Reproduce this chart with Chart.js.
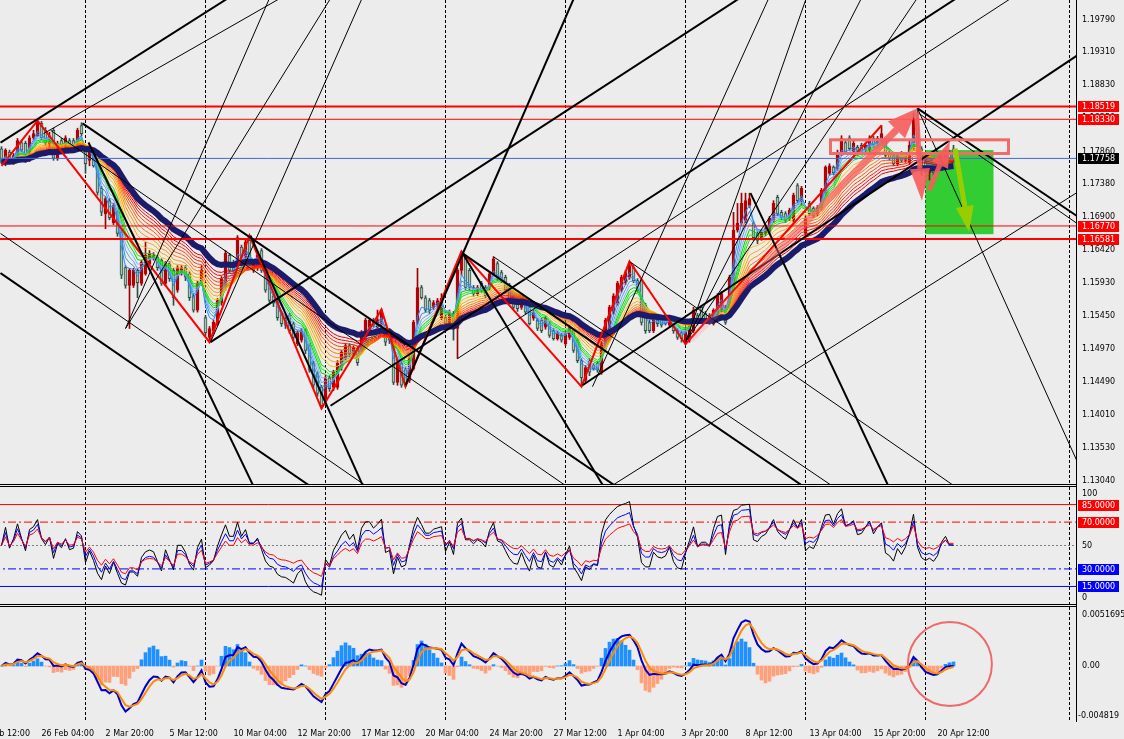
<!DOCTYPE html>
<html lang="en">
<head>
<meta charset="UTF-8">
<title>EURUSD,H4</title>
<script src="https://cdn.jsdelivr.net/npm/chart.js"></script>
<style>
  html, body { margin: 0; padding: 0; background: #ececec; }
  body { position: relative; width: 1124px; height: 739px; overflow: hidden; }
  .pane { position: absolute; left: 0; width: 1124px; }
  .hr { position: absolute; left: 0; width: 1077px; height: 1px; background: #000; }
  .vr { position: absolute; left: 1076px; top: 0; width: 1px; height: 722px; background: #000; }
</style>
</head>
<body>
<div class="pane" style="top:0;height:484px"><canvas id="priceChart"></canvas></div>
<div class="pane" style="top:487px;height:117px"><canvas id="rsiChart"></canvas></div>
<div class="pane" style="top:607px;height:132px"><canvas id="macdChart"></canvas></div>
<div class="hr" style="top:484px"></div>
<div class="hr" style="top:486px"></div>
<div class="hr" style="top:604px"></div>
<div class="hr" style="top:606px"></div>
<div class="vr"></div>
<script>
// H4 bars, first bar = 24 Feb 12:00, last bar = 21 Apr 04:00
const opens = [
 1.1790,1.1768,1.1785,1.1770,1.1776,1.1799,1.1798,1.1773,1.1806,1.1809,
 1.1827,1.1817,1.1795,1.1817,1.1776,1.1802,1.1792,1.1802,1.1802,1.1795,
 1.1824,1.1792,1.1773,1.1788,1.1768,1.1732,1.1695,1.1714,1.1682,1.1697,
 1.1668,1.1616,1.1590,1.1590,1.1612,1.1593,1.1607,1.1622,1.1629,1.1631,
 1.1627,1.1593,1.1622,1.1612,1.1583,1.1607,1.1616,1.1607,1.1575,1.1554,
 1.1593,1.1543,1.1514,1.1524,1.1534,1.1564,1.1587,1.1634,1.1624,1.1624,
 1.1646,1.1631,1.1656,1.1612,1.1615,1.1641,1.1612,1.1594,1.1575,1.1568,
 1.1549,1.1542,1.1546,1.1534,1.1505,1.1510,1.1524,1.1502,1.1476,1.1461,
 1.1441,1.1422,1.1455,1.1441,1.1441,1.1470,1.1484,1.1502,1.1487,1.1498,
 1.1495,1.1510,1.1524,1.1539,1.1527,1.1532,1.1532,1.1524,1.1505,1.1448,
 1.1476,1.1468,1.1451,1.1468,1.1536,1.1587,1.1572,1.1568,1.1558,1.1561,
 1.1543,1.1543,1.1534,1.1549,1.1527,1.1612,1.1631,1.1612,1.1587,1.1578,
 1.1593,1.1587,1.1586,1.1607,1.1622,1.1609,1.1602,1.1590,1.1572,1.1568,
 1.1558,1.1564,1.1558,1.1542,1.1539,1.1539,1.1529,1.1534,1.1524,1.1512,
 1.1517,1.1505,1.1514,1.1524,1.1510,1.1480,1.1451,1.1480,1.1473,1.1476,
 1.1463,1.1499,1.1524,1.1551,1.1564,1.1583,1.1594,1.1602,1.1616,1.1597,
 1.1597,1.1561,1.1536,1.1524,1.1539,1.1542,1.1539,1.1532,1.1532,1.1524,
 1.1521,1.1507,1.1510,1.1524,1.1546,1.1558,1.1549,1.1546,1.1534,1.1542,
 1.1554,1.1558,1.1558,1.1593,1.1671,1.1681,1.1685,1.1707,1.1681,1.1666,
 1.1660,1.1666,1.1668,1.1685,1.1719,1.1697,1.1695,1.1688,1.1685,1.1736,
 1.1714,1.1666,1.1710,1.1703,1.1695,1.1704,1.1725,1.1754,1.1763,1.1761,
 1.1783,1.1799,1.1806,1.1785,1.1792,1.1795,1.1788,1.1788,1.1805,1.1798,
 1.1802,1.1802,1.1785,1.1780,1.1768,1.1783,1.1773,1.1770,1.1790,1.1834,
 1.1790,1.1770,1.1755,1.1765,1.1770,1.1768,1.1776,1.1785,1.1790
];
const highs = [
 1.1793,1.1790,1.1788,1.1783,1.1805,1.1802,1.1801,1.1809,1.1817,1.1831,
 1.1830,1.1821,1.1814,1.1820,1.1801,1.1805,1.1809,1.1805,1.1805,1.1820,
 1.1828,1.1795,1.1788,1.1790,1.1773,1.1735,1.1720,1.1717,1.1710,1.1700,
 1.1671,1.1619,1.1615,1.1615,1.1615,1.1627,1.1653,1.1641,1.1638,1.1634,
 1.1629,1.1625,1.1625,1.1615,1.1619,1.1619,1.1619,1.1610,1.1578,1.1596,
 1.1619,1.1546,1.1530,1.1539,1.1571,1.1603,1.1641,1.1637,1.1627,1.1663,
 1.1649,1.1656,1.1663,1.1625,1.1638,1.1644,1.1615,1.1597,1.1578,1.1571,
 1.1552,1.1545,1.1549,1.1537,1.1524,1.1527,1.1527,1.1505,1.1479,1.1464,
 1.1444,1.1458,1.1458,1.1466,1.1480,1.1495,1.1505,1.1505,1.1502,1.1501,
 1.1524,1.1542,1.1542,1.1542,1.1554,1.1555,1.1534,1.1527,1.1508,1.1479,
 1.1479,1.1471,1.1487,1.1539,1.1615,1.1590,1.1575,1.1571,1.1568,1.1571,
 1.1578,1.1546,1.1554,1.1552,1.1615,1.1640,1.1634,1.1615,1.1590,1.1590,
 1.1596,1.1590,1.1610,1.1632,1.1625,1.1612,1.1605,1.1593,1.1575,1.1571,
 1.1571,1.1567,1.1561,1.1554,1.1542,1.1542,1.1545,1.1537,1.1527,1.1523,
 1.1520,1.1523,1.1532,1.1527,1.1512,1.1483,1.1473,1.1483,1.1476,1.1479,
 1.1508,1.1542,1.1561,1.1578,1.1596,1.1605,1.1612,1.1625,1.1619,1.1600,
 1.1600,1.1564,1.1539,1.1545,1.1542,1.1545,1.1542,1.1545,1.1534,1.1527,
 1.1524,1.1527,1.1539,1.1558,1.1549,1.1561,1.1552,1.1549,1.1556,1.1578,
 1.1581,1.1561,1.1605,1.1697,1.1710,1.1725,1.1725,1.1725,1.1684,1.1669,
 1.1671,1.1676,1.1691,1.1714,1.1722,1.1700,1.1698,1.1703,1.1725,1.1739,
 1.1735,1.1691,1.1713,1.1705,1.1707,1.1732,1.1765,1.1768,1.1765,1.1788,
 1.1809,1.1802,1.1809,1.1801,1.1795,1.1798,1.1798,1.1809,1.1808,1.1808,
 1.1824,1.1805,1.1788,1.1783,1.1783,1.1786,1.1783,1.1802,1.1842,1.1849,
 1.1793,1.1773,1.1764,1.1768,1.1773,1.1780,1.1788,1.1788,1.1795
];
const lows = [
 1.1768,1.1765,1.1768,1.1767,1.1773,1.1785,1.1770,1.1771,1.1803,1.1808,
 1.1803,1.1795,1.1792,1.1773,1.1773,1.1789,1.1789,1.1788,1.1789,1.1792,
 1.1809,1.1754,1.1765,1.1763,1.1722,1.1692,1.1673,1.1686,1.1679,1.1662,
 1.1600,1.1586,1.1527,1.1587,1.1572,1.1590,1.1605,1.1619,1.1627,1.1612,
 1.1590,1.1590,1.1596,1.1561,1.1580,1.1605,1.1597,1.1568,1.1551,1.1551,
 1.1590,1.1517,1.1507,1.1520,1.1532,1.1561,1.1583,1.1609,1.1609,1.1621,
 1.1628,1.1628,1.1619,1.1609,1.1612,1.1609,1.1580,1.1565,1.1559,1.1539,
 1.1530,1.1527,1.1520,1.1510,1.1502,1.1507,1.1490,1.1463,1.1439,1.1428,
 1.1410,1.1417,1.1435,1.1436,1.1438,1.1466,1.1481,1.1486,1.1484,1.1473,
 1.1492,1.1507,1.1521,1.1529,1.1524,1.1529,1.1502,1.1505,1.1445,1.1444,
 1.1441,1.1442,1.1448,1.1466,1.1533,1.1570,1.1551,1.1549,1.1555,1.1558,
 1.1540,1.1532,1.1532,1.1510,1.1483,1.1605,1.1584,1.1583,1.1574,1.1575,
 1.1580,1.1572,1.1583,1.1605,1.1597,1.1594,1.1580,1.1565,1.1555,1.1552,
 1.1555,1.1548,1.1532,1.1539,1.1524,1.1521,1.1526,1.1514,1.1510,1.1510,
 1.1507,1.1502,1.1511,1.1492,1.1477,1.1442,1.1447,1.1458,1.1466,1.1463,
 1.1460,1.1496,1.1521,1.1548,1.1561,1.1580,1.1591,1.1599,1.1594,1.1580,
 1.1532,1.1520,1.1521,1.1521,1.1530,1.1529,1.1532,1.1529,1.1520,1.1511,
 1.1507,1.1504,1.1507,1.1521,1.1532,1.1536,1.1536,1.1533,1.1532,1.1539,
 1.1551,1.1533,1.1555,1.1590,1.1668,1.1678,1.1682,1.1704,1.1656,1.1651,
 1.1656,1.1663,1.1665,1.1682,1.1692,1.1686,1.1682,1.1685,1.1682,1.1711,
 1.1707,1.1662,1.1692,1.1689,1.1692,1.1700,1.1722,1.1751,1.1752,1.1758,
 1.1780,1.1782,1.1788,1.1782,1.1780,1.1782,1.1785,1.1785,1.1792,1.1795,
 1.1799,1.1777,1.1773,1.1765,1.1765,1.1770,1.1770,1.1767,1.1788,1.1785,
 1.1751,1.1755,1.1744,1.1751,1.1758,1.1765,1.1773,1.1773,1.1770
];
const closes = [
 1.1770,1.1788,1.1770,1.1780,1.1802,1.1788,1.1773,1.1806,1.1812,1.1828,
 1.1806,1.1798,1.1809,1.1776,1.1798,1.1792,1.1806,1.1790,1.1792,1.1817,
 1.1812,1.1768,1.1785,1.1765,1.1726,1.1697,1.1717,1.1689,1.1707,1.1666,
 1.1605,1.1590,1.1612,1.1612,1.1594,1.1624,1.1634,1.1637,1.1634,1.1616,
 1.1593,1.1622,1.1600,1.1572,1.1616,1.1616,1.1602,1.1572,1.1554,1.1593,
 1.1612,1.1521,1.1527,1.1536,1.1568,1.1600,1.1637,1.1612,1.1612,1.1660,
 1.1631,1.1653,1.1622,1.1622,1.1634,1.1612,1.1583,1.1568,1.1564,1.1543,
 1.1534,1.1532,1.1524,1.1514,1.1521,1.1524,1.1495,1.1466,1.1444,1.1432,
 1.1414,1.1455,1.1439,1.1463,1.1476,1.1492,1.1502,1.1490,1.1499,1.1477,
 1.1520,1.1539,1.1539,1.1532,1.1540,1.1551,1.1507,1.1510,1.1448,1.1476,
 1.1444,1.1447,1.1484,1.1536,1.1587,1.1572,1.1554,1.1554,1.1565,1.1568,
 1.1571,1.1534,1.1551,1.1527,1.1612,1.1637,1.1587,1.1587,1.1578,1.1587,
 1.1583,1.1575,1.1607,1.1629,1.1600,1.1597,1.1583,1.1568,1.1558,1.1556,
 1.1568,1.1551,1.1534,1.1551,1.1527,1.1524,1.1542,1.1517,1.1512,1.1520,
 1.1510,1.1520,1.1529,1.1495,1.1480,1.1455,1.1470,1.1463,1.1468,1.1466,
 1.1505,1.1539,1.1558,1.1575,1.1593,1.1602,1.1609,1.1619,1.1597,1.1583,
 1.1536,1.1524,1.1524,1.1542,1.1534,1.1532,1.1534,1.1542,1.1524,1.1514,
 1.1512,1.1524,1.1536,1.1554,1.1534,1.1539,1.1539,1.1536,1.1554,1.1575,
 1.1578,1.1536,1.1602,1.1671,1.1681,1.1710,1.1714,1.1717,1.1660,1.1656,
 1.1668,1.1673,1.1688,1.1710,1.1695,1.1689,1.1685,1.1700,1.1722,1.1714,
 1.1732,1.1688,1.1695,1.1692,1.1704,1.1729,1.1763,1.1765,1.1755,1.1785,
 1.1805,1.1785,1.1790,1.1798,1.1783,1.1785,1.1795,1.1806,1.1795,1.1805,
 1.1812,1.1780,1.1776,1.1768,1.1780,1.1773,1.1780,1.1795,1.1834,1.1788,
 1.1765,1.1758,1.1761,1.1755,1.1761,1.1777,1.1785,1.1776,1.17758
];

// time axis
const timeLabels = ['23 Feb 12:00','26 Feb 04:00','2 Mar 20:00','5 Mar 12:00','10 Mar 04:00','12 Mar 20:00',
  '17 Mar 12:00','20 Mar 04:00','24 Mar 20:00','27 Mar 12:00','1 Apr 04:00','3 Apr 20:00','8 Apr 12:00',
  '13 Apr 04:00','15 Apr 20:00','20 Apr 12:00'];
const timeLabelBars = [-6,10,26,42,58,74,90,106,122,138,154,170,186,202,218,234];
const separatorBars = [21,51,81,111,141,171,201,231,267];

// price axis and levels
const priceTicks = [1.19790,1.19310,1.18830,1.18350,1.17860,1.17380,1.16900,1.16420,1.15930,1.15450,1.14970,1.14490,1.14010,1.13530,1.13040];
const redLevels = [1.18519,1.18330,1.16770,1.16581];
const bidPrice = 1.17758;

// zigzag swing points
const zigzagBars = [0,9,52,62,80,95,101,115,145,157,171,220];
const zigzagPrices = [1.1765,1.1831,1.1507,1.1663,1.1410,1.1555,1.1442,1.1640,1.1442,1.1625,1.1504,1.1824];

// trend lines [bar1, price1, bar2, price2]
const thickLines = [
 [-0.25,1.1799,62.25,1.2031],[20.25,1.1827,166.25,1.1246],[-0.25,1.1608,82.25,1.1276],
 [21.75,1.1799,64.75,1.1275],[62.25,1.1663,93.5,1.1256],[52.25,1.1507,189.75,1.2030],
 [82.25,1.1414,244.75,1.2033],[101,1.1444,146,1.2049],[115.25,1.1637,212.25,1.1249],
 [115.25,1.1637,156,1.1243],[145.25,1.1444,294.75,1.2027],[187.25,1.1725,224.75,1.1259],
 [229,1.1849,287.25,1.1619]
];
const thinLines = [
 [-0.25,1.1666,99.75,1.1262],[10.5,1.1812,74.75,1.2027],[12.25,1.1817,149.75,1.1262],
 [123,1.1632,219.75,1.1249],[157.25,1.1624,249.75,1.1250],[114,1.1483,259.75,1.2038],
 [31,1.1527,69.75,1.2047],[31,1.1527,86,1.2045],[52.25,1.1507,92.25,1.2038],
 [147.75,1.1442,194.75,1.2048],[171,1.1507,217.25,1.2036],[171,1.1507,232.25,1.2039],
 [171,1.1507,202.75,1.2036],[229,1.1849,274.6,1.1259],[229,1.1843,287.25,1.1606],
 [153.1,1.1299,274.6,1.1747]
];

// drawn objects [bar1, price1, bar2, price2]
const greenBox = [231,1.1788,248,1.1665];
const pinkBox = [207.25,1.1803,251.75,1.1783];
const pinkArrows = [[172.25,1.1510,229,1.1849],[228.75,1.1843,230.1,1.1714],[231.9,1.1729,237.1,1.1801]];
const limeArrow = [238.4,1.1790,241.9,1.1668];
const macdCircle = [237.1,0.000175];

// indicator settings
const ribbonPeriods = [3,4,5,6,7,8,9,11,13,15,17,19,21,23,25,27];
const ribbonColors = ['#1e90ff','#3a8ee8','#5aa0f0','#7db4f5','#00d000','#00ff00','#40c040','#ffc000',
  '#ffa500','#ff9000','#ff7a00','#ff5a00','#ff4000','#ff2000','#ff0000','#e00000'];
const slowPeriod = 32;
const rsiPeriods = [6,9,14];
const rsiLevels = [85,70,30,15];
const macdFast = 5, macdSlow = 10, macdSignalLen = 3, macdBaseLen = 9;

const X_MIN = -0.375, X_MAX = 268.625;

function ema(src, n) {
  const k = 2 / (n + 1), out = [src[0]];
  for (let i = 1; i < src.length; i++) out.push(src[i] * k + out[i - 1] * (1 - k));
  return out;
}
function sma(src, n) {
  return src.map((_, i) => {
    const a = src.slice(Math.max(0, i - n + 1), i + 1);
    return a.reduce((s, v) => s + v, 0) / a.length;
  });
}
function rsi(src, n) {
  let g = 0.0004, l = 0.0004;
  const out = [50];
  for (let i = 1; i < src.length; i++) {
    const d = src[i] - src[i - 1];
    g = (g * (n - 1) + Math.max(d, 0)) / n;
    l = (l * (n - 1) + Math.max(-d, 0)) / n;
    out.push(100 - 100 / (1 + g / l));
  }
  return out;
}

const pts = arr => arr.map((v, i) => ({ x: i, y: v }));
const seg = l => [{ x: l[0], y: l[1] }, { x: l[2], y: l[3] }];
const hline = v => [{ x: X_MIN - 2, y: v }, { x: X_MAX + 2, y: v }];
const lineDs = (data, color, width, order, extra) => Object.assign({
  type: 'line', data, borderColor: color, borderWidth: width, pointRadius: 0,
  fill: false, tension: 0, order
}, extra || {});

Chart.defaults.font.family = '"DejaVu Sans", sans-serif';
Chart.defaults.font.size = 8;
Chart.defaults.color = '#000';

const bull = closes.map((c, i) => c >= opens[i]);

function xAxis(show) {
  return {
    type: 'linear', min: X_MIN, max: X_MAX, offset: false, display: show,
    grid: { display: false }, border: { display: false },
    afterFit(s) { s.paddingLeft = 0; s.paddingRight = 0; if (show) s.height = 18; },
    afterBuildTicks(s) { if (show) s.ticks = timeLabelBars.map(v => ({ value: v })); },
    ticks: { autoSkip: false, maxRotation: 0, align: 'start', padding: 0,
      callback: (v, i) => timeLabels[i] }
  };
}
function yAxis(min, max, tickVals, fmt) {
  return {
    position: 'right', min, max,
    grid: { display: false, drawTicks: false },
    border: { display: true, color: '#000' },
    afterFit(s) { s.width = 48; s.paddingTop = 0; s.paddingBottom = 0; },
    afterBuildTicks(s) { s.ticks = tickVals.map(v => ({ value: v })); },
    ticks: { padding: 6, autoSkip: false, callback: fmt }
  };
}

const separators = {
  id: 'separators',
  beforeDatasetsDraw(chart) {
    const { ctx, chartArea: a, scales: { x } } = chart;
    ctx.save();
    ctx.strokeStyle = '#000'; ctx.lineWidth = 1; ctx.setLineDash([3, 2]);
    separatorBars.forEach(b => {
      const px = Math.floor(x.getPixelForValue(b)) + 0.5;
      ctx.beginPath(); ctx.moveTo(px, a.top); ctx.lineTo(px, a.bottom); ctx.stroke();
    });
    ctx.restore();
  }
};

function tag(ctx, y, text, bg) {
  const yy = Math.round(y);
  ctx.fillStyle = bg; ctx.fillRect(1078, yy - 5, 41, 11);
  ctx.fillStyle = '#fff'; ctx.textAlign = 'left'; ctx.textBaseline = 'middle';
  ctx.font = '8px "DejaVu Sans"';
  ctx.fillText(text, 1082, yy + 0.5);
}
function plainText(ctx, x, y, text) {
  ctx.fillStyle = '#000'; ctx.textAlign = 'left'; ctx.textBaseline = 'middle';
  ctx.font = '8px "DejaVu Sans"';
  ctx.fillText(text, x, y);
}
function arrow(ctx, x1, y1, x2, y2, shaft, headLen, headW, color, fade) {
  const ang = Math.atan2(y2 - y1, x2 - x1);
  const bx = x2 - Math.cos(ang) * headLen, by = y2 - Math.sin(ang) * headLen;
  let stroke = color;
  if (fade) {
    stroke = ctx.createLinearGradient(x1, y1, bx, by);
    stroke.addColorStop(0, 'rgba(248,96,96,0.12)');
    stroke.addColorStop(0.5, 'rgba(248,96,96,0.55)');
    stroke.addColorStop(1, color);
  }
  ctx.strokeStyle = stroke; ctx.lineWidth = shaft; ctx.lineCap = 'butt';
  ctx.beginPath(); ctx.moveTo(x1, y1); ctx.lineTo(bx, by); ctx.stroke();
  const nx = -Math.sin(ang) * headW / 2, ny = Math.cos(ang) * headW / 2;
  ctx.fillStyle = color;
  ctx.beginPath(); ctx.moveTo(x2, y2); ctx.lineTo(bx + nx, by + ny); ctx.lineTo(bx - nx, by - ny);
  ctx.closePath(); ctx.fill();
}

const priceObjects = {
  id: 'priceObjects',
  beforeDatasetsDraw(chart) {
    const { ctx, chartArea: a, scales: { x, y } } = chart;
    ctx.save();
    ctx.beginPath(); ctx.rect(a.left, a.top, a.width, a.height); ctx.clip();
    const gx1 = x.getPixelForValue(greenBox[0]), gy1 = y.getPixelForValue(greenBox[1]);
    const gx2 = x.getPixelForValue(greenBox[2]), gy2 = y.getPixelForValue(greenBox[3]);
    ctx.fillStyle = '#32cd32';
    ctx.fillRect(gx1, gy1, gx2 - gx1, gy2 - gy1);
    ctx.restore();
  },
  afterDatasetsDraw(chart) {
    const { ctx, chartArea: a, scales: { x, y } } = chart;
    ctx.save();
    ctx.beginPath(); ctx.rect(a.left, a.top, a.width, a.height); ctx.clip();
    const px = x.getPixelForValue.bind(x), py = y.getPixelForValue.bind(y);
    ctx.strokeStyle = '#f46a6a'; ctx.lineWidth = 3;
    ctx.strokeRect(px(pinkBox[0]), py(pinkBox[1]), px(pinkBox[2]) - px(pinkBox[0]), py(pinkBox[3]) - py(pinkBox[1]));
    const c = 'rgba(248,92,92,0.9)';
    const A = pinkArrows;
    arrow(ctx, px(A[0][0]), py(A[0][1]), px(A[0][2]), py(A[0][3]), 7, 30, 24, c, true);
    arrow(ctx, px(A[1][0]), py(A[1][1]), px(A[1][2]), py(A[1][3]), 5, 32, 20, c, false);
    arrow(ctx, px(A[2][0]), py(A[2][1]), px(A[2][2]), py(A[2][3]), 5, 26, 18, c, false);
    arrow(ctx, px(limeArrow[0]), py(limeArrow[1]), px(limeArrow[2]), py(limeArrow[3]), 5, 26, 18, '#9acd00', false);
    ctx.restore();
  },
  afterDraw(chart) {
    const { ctx, scales: { y } } = chart;
    ctx.save();
    redLevels.forEach(v => tag(ctx, y.getPixelForValue(v), v.toFixed(5), '#ff0000'));
    tag(ctx, y.getPixelForValue(bidPrice), bidPrice.toFixed(5), '#000000');
    ctx.restore();
  }
};

// price pane
const priceSets = [
  { type: 'bar', data: highs.map((h, i) => ({ x: i, y: [lows[i], h] })), barThickness: 1, grouped: false,
    backgroundColor: bull.map(b => b ? '#a00000' : '#2f4f4f'), order: 60 },
  { type: 'bar', data: opens.map((o, i) => ({ x: i, y: [o, closes[i]] })), barThickness: 3, grouped: false,
    backgroundColor: bull.map(b => b ? '#b40000' : '#a3c9aa'),
    borderColor: bull.map(b => b ? '#b40000' : '#2f4f4f'), borderWidth: 1, borderSkipped: false, order: 59 }
];
ribbonPeriods.forEach((p, k) => priceSets.push(lineDs(pts(ema(closes, p)), ribbonColors[k], 1, 50 - k * 0.1)));
priceSets.push(lineDs(pts(ema(closes, slowPeriod)), '#1b1b6b', 6, 40));
priceSets.push(lineDs(zigzagBars.map((b, i) => ({ x: b, y: zigzagPrices[i] })), '#ff0000', 2, 30));
redLevels.forEach((v, k) => priceSets.push(lineDs(hline(v), '#ff0000', (k === 0 || k === 3) ? 2 : 1, 25)));
priceSets.push(lineDs(hline(bidPrice), '#4169e1', 1, 25));
thinLines.forEach(l => priceSets.push(lineDs(seg(l), '#000', 1, 20)));
thickLines.forEach(l => priceSets.push(lineDs(seg(l), '#000', 2, 19)));

new Chart(document.getElementById('priceChart'), {
  type: 'line',
  data: { datasets: priceSets },
  options: {
    responsive: true, maintainAspectRatio: false, animation: false, events: [],
    layout: { padding: 0 },
    plugins: { legend: { display: false }, tooltip: { enabled: false } },
    scales: {
      x: xAxis(false),
      y: yAxis(1.12996, 1.20075, priceTicks, v => v.toFixed(5))
    }
  },
  plugins: [separators, priceObjects]
});

// RSI pane
const rsiColors = ['#000000', '#0000ff', '#ff0000'];
const rsiSets = [
  lineDs(hline(85), '#ff0000', 1, 50),
  lineDs(hline(70), '#ff0000', 1, 50, { borderDash: [8, 3, 2, 3] }),
  lineDs(hline(50), '#808080', 1, 50, { borderDash: [2, 2] }),
  lineDs(hline(30), '#0000ff', 1, 50, { borderDash: [8, 3, 2, 3] }),
  lineDs(hline(15), '#0000ff', 1, 50)
];
rsiPeriods.forEach((p, k) => rsiSets.push(lineDs(pts(rsi(closes, p)), rsiColors[k], 1, 30 - k)));

const rsiLabels = {
  id: 'rsiLabels',
  afterDraw(chart) {
    const { ctx, chartArea: a, scales: { y } } = chart;
    ctx.save();
    plainText(ctx, 1082, a.top + 7, '100');
    plainText(ctx, 1082, a.bottom - 6, '0');
    rsiLevels.forEach(v => tag(ctx, y.getPixelForValue(v), v.toFixed(4), v > 50 ? '#ff0000' : '#0000ff'));
    ctx.restore();
  }
};

new Chart(document.getElementById('rsiChart'), {
  type: 'line',
  data: { datasets: rsiSets },
  options: {
    responsive: true, maintainAspectRatio: false, animation: false, events: [],
    plugins: { legend: { display: false }, tooltip: { enabled: false } },
    scales: { x: xAxis(false), y: yAxis(0, 100, [50], v => String(v)) }
  },
  plugins: [separators, rsiLabels]
});

// MACD pane
const emaFast = ema(closes, macdFast), emaSlow = ema(closes, macdSlow);
const macdMain = emaFast.map((v, i) => v - emaSlow[i]);
const macdSignal = ema(macdMain, macdSignalLen);
const macdBase = sma(macdMain, macdBaseLen);
const macdHist = macdMain.map((v, i) => v - macdBase[i]);

const macdLabels = {
  id: 'macdLabels',
  afterDraw(chart) {
    const { ctx, chartArea: a, scales: { x, y } } = chart;
    ctx.save();
    plainText(ctx, 1082, a.top + 8, '0.0051695');
    plainText(ctx, 1078, a.bottom - 5, '-0.004819');
    ctx.beginPath(); ctx.rect(a.left, a.top, a.width, a.height); ctx.clip();
    ctx.strokeStyle = '#f06a6a'; ctx.lineWidth = 2;
    ctx.beginPath();
    ctx.arc(x.getPixelForValue(macdCircle[0]), y.getPixelForValue(macdCircle[1]), 42, 0, Math.PI * 2);
    ctx.stroke();
    ctx.restore();
  }
};

new Chart(document.getElementById('macdChart'), {
  type: 'line',
  data: {
    datasets: [
      { type: 'bar', data: pts(macdHist), barThickness: 3, grouped: false,
        backgroundColor: macdHist.map(v => v >= 0 ? '#1e90ff' : '#ffa07a'), order: 50 },
      lineDs(pts(macdMain), '#0000cd', 2, 20),
      lineDs(pts(macdSignal), '#ff8c00', 2, 10)
    ]
  },
  options: {
    responsive: true, maintainAspectRatio: false, animation: false, events: [],
    plugins: { legend: { display: false }, tooltip: { enabled: false } },
    scales: { x: xAxis(true), y: yAxis(-0.004819, 0.0051695, [0], () => '0.00') }
  },
  plugins: [separators, macdLabels]
});
</script>
</body>
</html>
